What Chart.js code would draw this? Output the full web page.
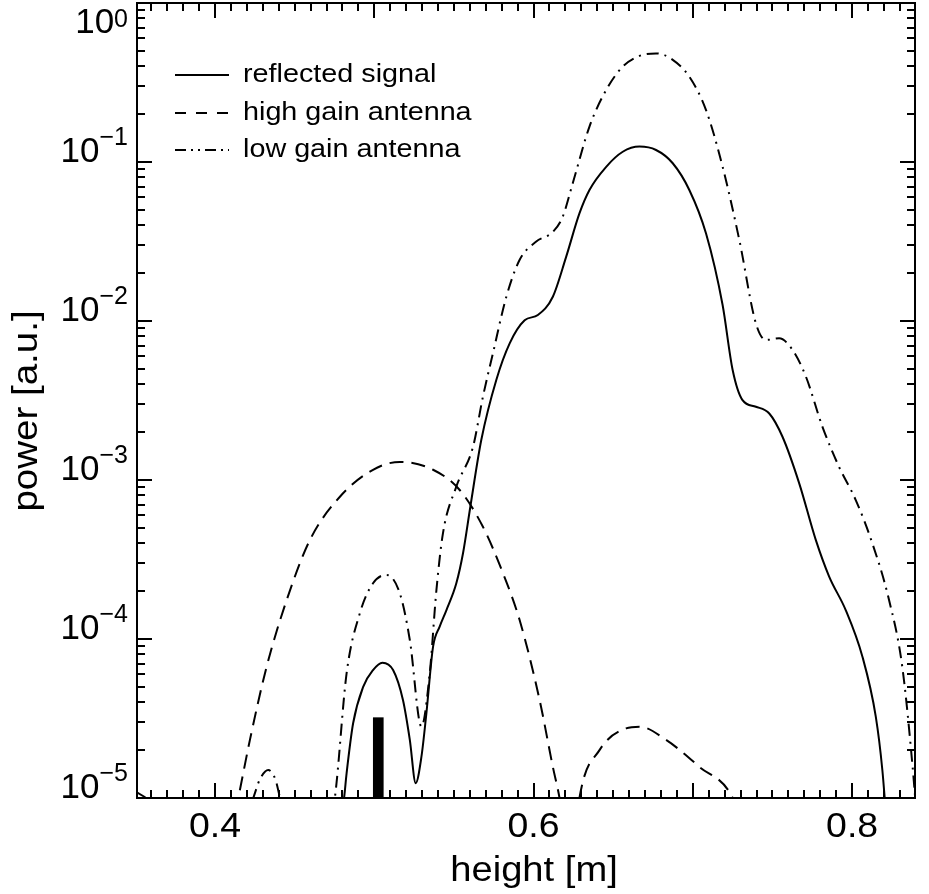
<!DOCTYPE html>
<html>
<head>
<meta charset="utf-8">
<script src="https://cdn.jsdelivr.net/npm/chart.js@4/dist/chart.umd.min.js"></script>
<style>
  html, body { margin: 0; padding: 0; background: #fff; }
  canvas { display: block; }
</style>
</head>
<body>
<canvas id="chart" width="929" height="894"></canvas>
<script>
// reflected signal (solid)
const reflX = [0.475, 0.481, 0.4826, 0.4867, 0.493, 0.4992, 0.5051, 0.5118, 0.518, 0.5223, 0.526, 0.5296,
  0.5327, 0.5369, 0.5411, 0.5453, 0.5515, 0.5557, 0.5603, 0.5672, 0.5766, 0.585, 0.5944, 0.6027, 0.6121,
  0.6205, 0.6288, 0.6351, 0.6456, 0.656, 0.6665, 0.6769, 0.6874, 0.6978, 0.7083, 0.7187, 0.725, 0.7312,
  0.7396, 0.748, 0.7563, 0.7668, 0.7772, 0.7856, 0.796, 0.8065, 0.8149, 0.819, 0.822];
const reflY = [5.0e-6, 1.0e-5, 1.43e-5, 2.95e-5, 5.0e-5, 6.38e-5, 7.1e-5, 6.38e-5, 4.13e-5, 2.32e-5, 1.24e-5, 1.82e-5,
  3.41e-5, 8.95e-5, 1.2e-4, 1.52e-4, 2.24e-4, 3.46e-4, 6.79e-4, 1.79e-3, 4.26e-3, 7.24e-3, 1.01e-2, 1.09e-2, 1.42e-2,
  2.54e-2, 4.75e-2, 6.67e-2, 9.33e-2, 0.116, 0.125, 0.119, 0.0982, 0.0667, 0.0355, 0.0126, 4.92e-3, 3.18e-3,
  2.89e-3, 2.62e-3, 1.87e-3, 9.53e-4, 4.2e-4, 2.47e-4, 1.52e-4, 7.74e-5, 3.24e-5, 1.5e-5, 6.3e-6];

// high gain antenna (dashed)
const highX = [0.41, 0.4146, 0.4219, 0.4324, 0.445, 0.4596, 0.4784, 0.4992, 0.516, 0.5369, 0.5536, 0.5682,
  0.5808, 0.5912, 0.6038, 0.6121, 0.6163, 0.621, 0.6235, 0.6255, 0.6288, 0.6414, 0.6581, 0.6665, 0.6832,
  0.7041, 0.725, 0.73];
const highY = [6e-6, 1.0e-5, 2.32e-5, 6.7e-5, 1.76e-4, 4.2e-4, 7.85e-4, 1.16e-3, 1.3e-3, 1.16e-3, 8.65e-4, 5.08e-4,
  2.59e-4, 1.32e-4, 4.13e-5, 1.57e-5, 1.0e-5, 5e-6, 3e-6, 5e-6, 1.0e-5, 2.0e-5, 2.74e-5, 2.81e-5, 2.32e-5,
  1.57e-5, 1.0e-5, 7e-6];

// low gain antenna (dash-dot)
const lowX = [0.35, 0.366, 0.42, 0.424, 0.428, 0.4334, 0.438, 0.4408, 0.445, 0.47, 0.4752, 0.4826, 0.4909,
  0.4992, 0.5076, 0.516, 0.5223, 0.5296, 0.5348, 0.539, 0.5431, 0.5515, 0.562, 0.5682, 0.5745, 0.5829,
  0.5912, 0.6017, 0.6121, 0.6183, 0.6246, 0.6351, 0.6456, 0.656, 0.6665, 0.6769, 0.6874, 0.6978, 0.7083,
  0.7187, 0.7292, 0.7396, 0.7459, 0.7542, 0.7626, 0.771, 0.7814, 0.7918, 0.8023, 0.8127, 0.8232, 0.8315,
  0.8378, 0.842];
const lowY = [1.1e-5, 9e-6, 8e-6, 1.0e-5, 1.3e-5, 1.5e-5, 1.3e-5, 1.0e-5, 7e-6, 6e-6, 1.0e-5, 6.08e-5, 1.45e-4,
  2.24e-4, 2.53e-4, 1.94e-4, 9.86e-5, 2.81e-5, 6.08e-5, 2.03e-4, 4.62e-4, 9.08e-4, 1.62e-3, 3.34e-3, 6.27e-3, 1.42e-2,
  2.42e-2, 3.16e-2, 3.63e-2, 4.53e-2, 7.35e-2, 0.167, 0.284, 0.398, 0.465, 0.482, 0.439, 0.344, 0.212,
  0.0933, 0.0323, 9.66e-3, 7.6e-3, 7.78e-3, 6.58e-3, 4.47e-3, 2.16e-3, 1.21e-3, 7.48e-4, 4.0e-4, 1.76e-4, 6.7e-5,
  1.65e-5, 5e-6];

// marker bar
const markX = 0.5025;
const markTop = 3.2e-5;

const xMin = 0.351, xMax = 0.8395;
const yMin = 1e-5, yMax = 1;
const xTickLabels = [0.4, 0.6, 0.8];
const yTickExps = [0, -1, -2, -3, -4, -5];
const seriesNames = ['reflected signal', 'high gain antenna', 'low gain antenna'];

const FONT = '"Liberation Sans", Arial, Helvetica, sans-serif';
const curveDash = [[], [14, 8], [12, 6, 2, 6]];
const legendDash = [[], [11, 10], [11, 5, 2, 5, 2, 5]];

function pts(xs, ys) {
    return xs.map((x, i) => ({ x: x, y: ys[i] }));
}

function txt(ctx, s, x, y, size, align, sx) {
    ctx.save();
    ctx.translate(x, y);
    ctx.scale(sx, 1);
    ctx.font = size + 'px ' + FONT;
    ctx.textAlign = align;
    ctx.textBaseline = 'alphabetic';
    ctx.fillText(s, 0, 0);
    ctx.restore();
}

// axes box, inward ticks, labels, titles and legend
const frame = {
    id: 'frame',
    afterDraw(chart) {
        const { ctx, chartArea: a } = chart;
        const xs = chart.scales.x, ys = chart.scales.y;
        ctx.save();
        ctx.fillStyle = '#000';
        ctx.strokeStyle = '#000';
        ctx.lineCap = 'butt';

        // x ticks (bottom and top)
        ctx.lineWidth = 2;
        for (let i = 36; i <= 83; i++) {
            const px = Math.round(xs.getPixelForValue(i / 100));
            const len = i % 10 === 0 ? 15 : 8;
            ctx.beginPath();
            ctx.moveTo(px, a.bottom); ctx.lineTo(px, a.bottom - len);
            ctx.moveTo(px, a.top); ctx.lineTo(px, a.top + len);
            ctx.stroke();
        }
        // y ticks (left and right)
        for (let e = -5; e <= 0; e++) {
            for (let k = 1; k <= 9; k++) {
                const v = k * Math.pow(10, e);
                if (v > yMax) break;
                const py = Math.round(ys.getPixelForValue(v));
                const len = k === 1 ? 15 : 8;
                ctx.beginPath();
                ctx.moveTo(a.left, py); ctx.lineTo(a.left + len, py);
                ctx.moveTo(a.right, py); ctx.lineTo(a.right - len, py);
                ctx.stroke();
            }
        }
        ctx.strokeRect(a.left, a.top, a.right - a.left, a.bottom - a.top);

        // x tick labels
        xTickLabels.forEach(v => {
            txt(ctx, v.toFixed(1), xs.getPixelForValue(v), 837, 35, 'center', 1.07);
        });
        // y tick labels 10^n
        yTickExps.forEach(e => {
            const py = ys.getPixelForValue(Math.pow(10, e));
            const base = e === 0 ? 33 : py;
            const sup = e === 0 ? '0' : '\u2212' + (-e);
            ctx.font = '25px ' + FONT;
            const w = ctx.measureText(sup).width;
            txt(ctx, sup, 128, e === 0 ? 27 : base - 17, 25, 'right', 1);
            txt(ctx, '10', 128 - w, base, 35, 'right', 1);
        });

        // axis titles
        txt(ctx, 'height [m]', 534, 881, 35, 'center', 1.09);
        ctx.save();
        ctx.translate(37, 411);
        ctx.rotate(-Math.PI / 2);
        txt(ctx, 'power [a.u.]', 0, 0, 35, 'center', 1.1);
        ctx.restore();

        // legend
        const rowsY = [75, 113, 150];
        seriesNames.forEach((name, i) => {
            ctx.lineWidth = 2;
            ctx.setLineDash(legendDash[i]);
            ctx.beginPath();
            ctx.moveTo(175, rowsY[i]);
            ctx.lineTo(229, rowsY[i]);
            ctx.stroke();
            ctx.setLineDash([]);
            txt(ctx, name, 243, rowsY[i] + 7, 25, 'left', 1.15);
        });
        ctx.restore();
    }
};

function lineSet(name, xs, ys, i) {
    return {
        type: 'line',
        label: name,
        data: pts(xs, ys),
        borderColor: '#000',
        borderWidth: 2,
        borderDash: curveDash[i],
        pointRadius: 0,
        fill: false,
        cubicInterpolationMode: 'monotone',
        clip: 0
    };
}

new Chart(document.getElementById('chart').getContext('2d'), {
    type: 'line',
    data: {
        datasets: [
            lineSet(seriesNames[0], reflX, reflY, 0),
            lineSet(seriesNames[1], highX, highY, 1),
            lineSet(seriesNames[2], lowX, lowY, 2),
            {
                type: 'bar',
                label: 'marker',
                data: [{ x: markX, y: [yMin, markTop] }],
                backgroundColor: '#000',
                borderWidth: 0,
                barThickness: 10,
                clip: 0
            }
        ]
    },
    plugins: [frame],
    options: {
        responsive: false,
        devicePixelRatio: 1,
        animation: false,
        layout: { padding: { left: 137, right: 14, top: 3, bottom: 96 } },
        plugins: { legend: { display: false }, tooltip: { enabled: false } },
        scales: {
            x: { type: 'linear', min: xMin, max: xMax, offset: false, display: false },
            y: { type: 'logarithmic', min: yMin, max: yMax, display: false }
        }
    }
});
</script>
</body>
</html>
